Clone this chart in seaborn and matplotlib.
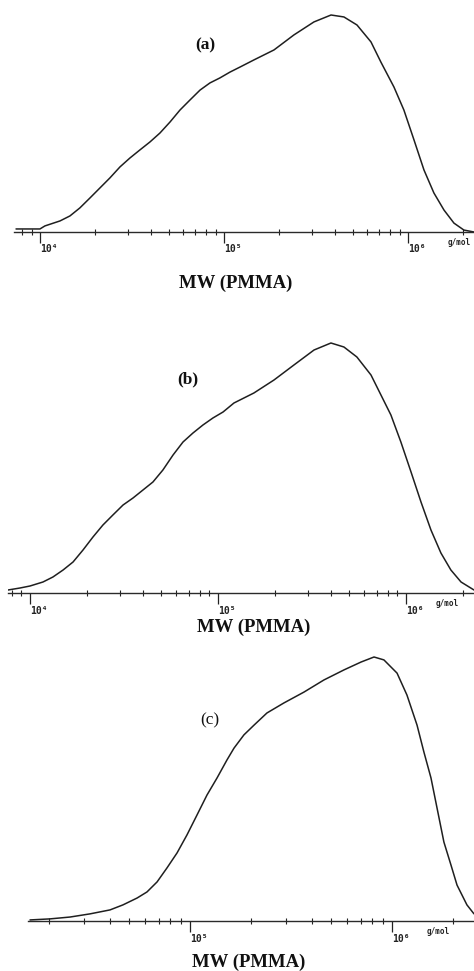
import numpy as np
import matplotlib
matplotlib.use("Agg")
import matplotlib.pyplot as plt
import seaborn as sns
from matplotlib.ticker import LogLocator, NullFormatter

# GPC molecular-weight distributions (log10 of MW vs. normalised detector signal)
logmw_a = [3.870, 4.000, 4.027, 4.109, 4.163, 4.217, 4.272, 4.326, 4.380, 4.435,
           4.489, 4.543, 4.598, 4.652, 4.707, 4.761, 4.815, 4.870, 4.924, 4.978,
           5.033, 5.087, 5.163, 5.272, 5.380, 5.489, 5.582, 5.652, 5.723, 5.799,
           5.853, 5.924, 5.978, 6.033, 6.087, 6.141, 6.196, 6.250, 6.304, 6.359]
signal_a = [0.014, 0.014, 0.028, 0.051, 0.074, 0.111, 0.157, 0.203, 0.249, 0.300,
            0.341, 0.378, 0.415, 0.456, 0.507, 0.562, 0.608, 0.654, 0.687, 0.710,
            0.737, 0.760, 0.793, 0.839, 0.908, 0.968, 1.000, 0.991, 0.954, 0.876,
            0.783, 0.668, 0.562, 0.424, 0.286, 0.180, 0.101, 0.041, 0.009, 0.000]

logmw_b = [3.883, 3.947, 4.000, 4.069, 4.122, 4.176, 4.229, 4.282, 4.335, 4.388,
           4.441, 4.495, 4.548, 4.601, 4.654, 4.707, 4.761, 4.814, 4.867, 4.920,
           4.973, 5.027, 5.085, 5.191, 5.298, 5.404, 5.511, 5.601, 5.670, 5.739,
           5.814, 5.867, 5.920, 5.973, 6.027, 6.080, 6.133, 6.186, 6.239, 6.293,
           6.362]
signal_b = [0.012, 0.020, 0.028, 0.044, 0.064, 0.092, 0.124, 0.172, 0.224, 0.272,
            0.312, 0.352, 0.380, 0.412, 0.444, 0.492, 0.552, 0.604, 0.640, 0.672,
            0.700, 0.724, 0.760, 0.800, 0.852, 0.912, 0.972, 1.000, 0.984, 0.944,
            0.872, 0.792, 0.712, 0.604, 0.484, 0.364, 0.252, 0.160, 0.092, 0.044,
            0.012]

logmw_c = [4.208, 4.307, 4.406, 4.505, 4.604, 4.668, 4.738, 4.787, 4.837, 4.886,
           4.936, 4.985, 5.035, 5.084, 5.134, 5.183, 5.218, 5.267, 5.317, 5.381,
           5.465, 5.564, 5.663, 5.762, 5.847, 5.911, 5.960, 6.025, 6.074, 6.124,
           6.158, 6.193, 6.223, 6.257, 6.292, 6.322, 6.371, 6.406]
signal_c = [0.004, 0.008, 0.015, 0.027, 0.042, 0.061, 0.087, 0.110, 0.148, 0.201,
            0.258, 0.326, 0.402, 0.477, 0.542, 0.610, 0.655, 0.705, 0.742, 0.788,
            0.826, 0.867, 0.913, 0.951, 0.981, 1.000, 0.989, 0.939, 0.856, 0.742,
            0.640, 0.542, 0.428, 0.299, 0.212, 0.136, 0.061, 0.027]

panel_tags = ["(a)", "(b)", "(c)"]
tag_pos = [(4.897, 0.862), (4.840, 0.856), (5.099, 0.760)]
decades = [4, 5, 6]
decade_labels = ["10\u2074", "10\u2075", "10\u2076"]
unit_label = "g/mol"
axis_title = "MW (PMMA)"

sns.set_theme(style="white")
plt.rcParams["font.family"] = ["DejaVu Sans"]

W, H = 474, 971
fig = plt.figure(figsize=(W / 100, H / 100), dpi=100)

# pixel layout of each panel: left, right, baseline, top, x-limits (log10)
layout = [
    dict(left=14, right=474, base=232, top=5, xlim=(3.859, 6.359),
         label_xy=(236, 283), unit_x=448, tag_bold=True),
    dict(left=8, right=474, base=593, top=335, xlim=(3.883, 6.362),
         label_xy=(254, 627), unit_x=436, tag_bold=True),
    dict(left=28, right=474, base=921, top=648, xlim=(4.198, 6.406),
         label_xy=(249, 962), unit_x=427, tag_bold=False),
]
peak_px = [217, 250, 264]
series = [(logmw_a, signal_a), (logmw_b, signal_b), (logmw_c, signal_c)]

line_col = "#1f1f1f"
for i, (cfg, (lm, sig)) in enumerate(zip(layout, series)):
    h_px = cfg["base"] - cfg["top"]
    w_px = cfg["right"] - cfg["left"]
    ax = fig.add_axes([cfg["left"] / W, 1 - cfg["base"] / H, w_px / W, h_px / H])
    ax.set_facecolor("none")
    ax.set_xscale("log")
    mw = 10 ** np.asarray(lm)
    sns.lineplot(x=mw, y=sig, ax=ax, color=line_col, linewidth=1.1,
                 sort=False, estimator=None)
    ax.set_xlim(10 ** cfg["xlim"][0], 10 ** cfg["xlim"][1])
    ax.set_ylim(0, h_px / peak_px[i])
    ax.set_yticks([])
    ax.set_ylabel("")
    for s in ["left", "right", "top"]:
        ax.spines[s].set_visible(False)
    ax.spines["bottom"].set_color("#2a2a2a")
    ax.spines["bottom"].set_linewidth(1.0)

    shown = [(10.0 ** d, lab) for d, lab in zip(decades, decade_labels)
             if cfg["xlim"][0] <= d <= cfg["xlim"][1]]
    ax.set_xticks([t for t, _ in shown])
    ax.set_xticklabels([l for _, l in shown], ha="left",
                       fontfamily="DejaVu Sans Mono", fontsize=7,
                       fontweight="bold", color="#222222")
    ax.xaxis.set_minor_locator(LogLocator(base=10, subs=np.arange(2, 10)))
    ax.xaxis.set_minor_formatter(NullFormatter())
    ax.tick_params(axis="x", which="major", bottom=True, direction="out",
                   length=8, width=0.9, pad=1, color="#222222")
    ax.tick_params(axis="x", which="minor", bottom=True, direction="inout",
                   length=4, width=0.8, color="#222222")

    ax.annotate(unit_label, xy=((cfg["unit_x"] - cfg["left"]) / w_px, 0),
                xycoords="axes fraction", xytext=(0, -10.5 * 0.72),
                textcoords="offset points", ha="left", va="center",
                fontfamily="DejaVu Sans Mono", fontsize=5.5, fontweight="bold",
                color="#222222", annotation_clip=False)

    tx, ty = tag_pos[i]
    ax.text(10 ** tx, ty, panel_tags[i], ha="center", va="center",
            fontfamily="Liberation Serif", fontsize=12.5,
            fontweight="bold" if cfg["tag_bold"] else "normal", color="#111111")

    ax.set_xlabel(axis_title, fontfamily="Liberation Serif", fontsize=13.5,
                  fontweight="bold", color="#111111")
    lx, ly = cfg["label_xy"]
    ax.xaxis.set_label_coords((lx - cfg["left"]) / w_px, -(ly - cfg["base"]) / h_px)
    ax.xaxis.label.set_va("center")

fig.savefig("out.png", dpi=100)
